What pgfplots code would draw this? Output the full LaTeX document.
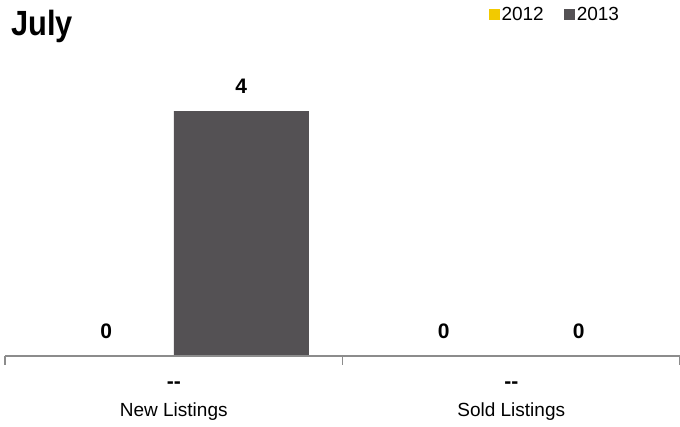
\documentclass[border=0pt]{standalone}
\usepackage{pgfplots}
\pgfplotsset{compat=1.18}
\usepackage{fontspec}
\setmainfont{Liberation Sans}
\definecolor{cyellow}{HTML}{F2CA00}
\definecolor{cgray}{HTML}{545154}
\definecolor{caxis}{HTML}{8C8C8C}
\begin{document}
\begin{tikzpicture}[x=1pt,y=1pt]
\path[use as bounding box] (-5,-71) rectangle (675,356);
\begin{axis}[
  at={(0,0)}, anchor=south west,
  scale only axis, width=675pt, height=296pt,
  xmin=-0.5, xmax=1.5, ymin=0, ymax=4.833,
  ybar=0pt, bar width=0.4,
  axis x line*=bottom, hide y axis,
  x axis line style={draw=caxis, line width=2.5pt, -},
  xtick={0,1},
  xticklabels={{\fontsize{21}{28}\selectfont\textbf{-{}-}\\New Listings},{\fontsize{21}{28}\selectfont\textbf{-{}-}\\Sold Listings}},
  major tick length=0pt,
  minor xtick={-0.5,0.5,1.5},
  minor tick length=9pt,
  tick align=outside,
  minor tick style={draw=caxis, line width=1.2pt},
  xticklabel style={align=center, font=\fontsize{19}{28}\selectfont, yshift=-22pt},
  /pgf/number format/assume math mode=true,
  nodes near coords,
  every node near coord/.append style={font=\fontsize{21}{22}\bfseries\selectfont, inner sep=0pt, yshift=17pt, text=black},
  clip=false,
  legend style={at={(0.716,1.186)}, anchor=north west, draw=none, fill=none,
    legend columns=2, font=\fontsize{19}{21}\selectfont,
    /tikz/every even column/.style={column sep=18pt}, inner sep=0pt},
  legend image code/.code={\fill[#1] (0pt,-5.5pt) rectangle (11pt,5.5pt);},
]
\addplot[fill=cyellow, draw=none] coordinates {(0,0) (1,0)};
\addplot[fill=cgray, draw=none] coordinates {(0,4) (1,0)};
\legend{2012,2013}
\draw[caxis, line width=2.5pt] (rel axis cs:0,0) -- (rel axis cs:1,0);
\end{axis}
\node[anchor=base west, inner sep=0pt] at (6,320) {\scalebox{0.88}[1]{\fontsize{35}{38}\bfseries\selectfont July}};
\end{tikzpicture}
\end{document}
